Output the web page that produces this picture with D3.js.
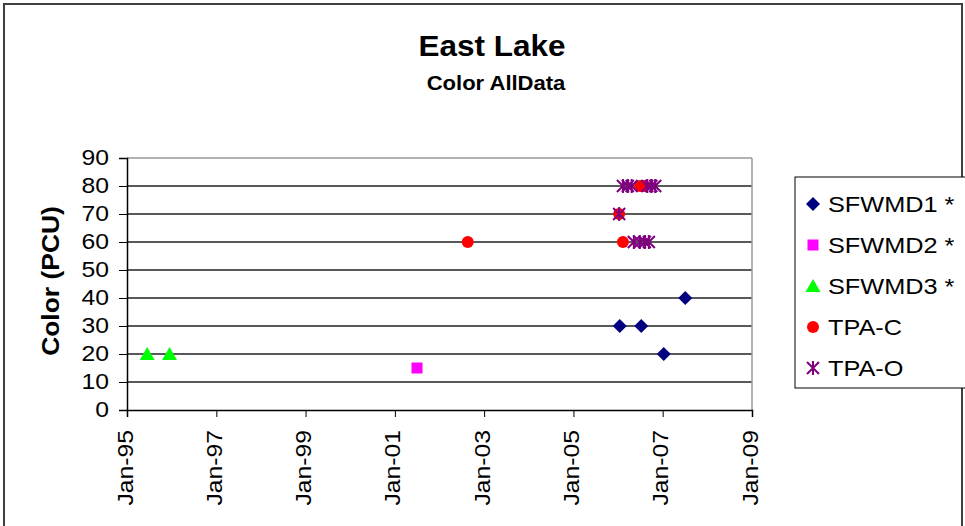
<!DOCTYPE html>
<html>
<head>
<meta charset="utf-8">
<script src="https://cdn.jsdelivr.net/npm/d3@7"></script>
<style>
  html, body { margin: 0; padding: 0; background: #fff; }
  svg { display: block; font-family: Arial, "Liberation Sans", sans-serif; }
</style>
</head>
<body>
<svg id="chart" width="965" height="526"></svg>
<script>
// Sampling dates and colour readings (PCU) per station
const sfwmd1Dates = ["2006-01-15", "2006-07-10", "2007-01-10", "2007-07-05"];
const sfwmd1Values = [30, 30, 20, 40];

const sfwmd2Dates = ["2001-07-01"];
const sfwmd2Values = [15];

const sfwmd3Dates = ["1995-06-15", "1995-12-15"];
const sfwmd3Values = [20, 20];

const tpaCDates = ["2002-08-20", "2006-01-10", "2006-02-10", "2006-07-01", "2006-08-01"];
const tpaCValues = [60, 70, 60, 80, 80];

const tpaODates = ["2006-01-10", "2006-02-10", "2006-03-22", "2006-04-22",
                   "2006-08-28", "2006-09-30", "2006-11-01",
                   "2006-05-10", "2006-06-28", "2006-08-08", "2006-09-10"];
const tpaOValues = [70, 80, 80, 80, 80, 80, 80, 60, 60, 60, 60];

const seriesNames = ["SFWMD1 *", "SFWMD2 *", "SFWMD3 *", "TPA-C", "TPA-O"];
const xTickDates = ["1995-01-01", "1997-01-01", "1999-01-01", "2001-01-01",
                    "2003-01-01", "2005-01-01", "2007-01-01", "2009-01-01"];
const yTicks = [0, 10, 20, 30, 40, 50, 60, 70, 80, 90];

const parse = d3.timeParse("%Y-%m-%d");
const fmt = d3.timeFormat("%b-%y");

const series = [
  { name: seriesNames[0], dates: sfwmd1Dates, values: sfwmd1Values, color: "#000080", shape: "diamond" },
  { name: seriesNames[1], dates: sfwmd2Dates, values: sfwmd2Values, color: "#FF00FF", shape: "square" },
  { name: seriesNames[2], dates: sfwmd3Dates, values: sfwmd3Values, color: "#00FF00", shape: "triangle" },
  { name: seriesNames[3], dates: tpaCDates, values: tpaCValues, color: "#FF0000", shape: "circle" },
  { name: seriesNames[4], dates: tpaODates, values: tpaOValues, color: "#800080", shape: "star" }
];

// Text is drawn slightly widened along its reading direction
const WIDEN = 1.15;

const svg = d3.select("#chart");
const plot = { left: 127, right: 752, top: 158, bottom: 410 };

// Outer chart frame
svg.append("rect")
  .attr("x", 4).attr("y", 4).attr("width", 958).attr("height", 540)
  .attr("fill", "#fff").attr("stroke", "#404040").attr("stroke-width", 2);

// Titles
svg.append("text").attr("transform", "translate(492,56) scale(1.05,1)").attr("text-anchor", "middle")
  .attr("font-size", 30).attr("font-weight", "bold").text("East Lake");
svg.append("text").attr("transform", "translate(496,90) scale(1.05,1)").attr("text-anchor", "middle")
  .attr("font-size", 21).attr("font-weight", "bold").text("Color AllData");

const x = d3.scaleTime()
  .domain([parse(xTickDates[0]), parse(xTickDates[xTickDates.length - 1])])
  .range([plot.left, plot.right]);
const y = d3.scaleLinear().domain([0, 90]).range([plot.bottom, plot.top]);

// Gridlines
svg.append("g").selectAll("line").data(yTicks.slice(1)).join("line")
  .attr("x1", plot.left).attr("x2", plot.right)
  .attr("y1", d => y(d)).attr("y2", d => y(d))
  .attr("stroke", d => d === 90 ? "#999" : "#222").attr("stroke-width", 1.5);
// Right frame of plot area
svg.append("line").attr("x1", plot.right).attr("x2", plot.right)
  .attr("y1", plot.top).attr("y2", plot.bottom)
  .attr("stroke", "#999").attr("stroke-width", 1.5);

// Y axis
const yAxis = svg.append("g").attr("transform", `translate(${plot.left},0)`)
  .call(d3.axisLeft(y).tickValues(yTicks).tickSize(8).tickPadding(8));
yAxis.select(".domain").attr("stroke", "#000").attr("stroke-width", 1.5);
yAxis.selectAll(".tick line").attr("stroke", "#000");
yAxis.selectAll("text").attr("font-size", 21.5).attr("fill", "#000")
  .attr("font-family", "Arial, 'Liberation Sans', sans-serif")
  .attr("x", 0)
  .attr("transform", `translate(-18,0) scale(${WIDEN},1)`);

// X axis
const xAxis = svg.append("g").attr("transform", `translate(0,${plot.bottom})`)
  .call(d3.axisBottom(x).tickValues(xTickDates.map(parse)).tickFormat(fmt).tickSize(7).tickPadding(0));
xAxis.select(".domain").attr("stroke", "#000").attr("stroke-width", 1.5);
xAxis.selectAll(".tick line").attr("stroke", "#000");
xAxis.selectAll("text")
  .attr("font-size", 21.5).attr("fill", "#000")
  .attr("font-family", "Arial, 'Liberation Sans', sans-serif")
  .attr("text-anchor", "end")
  .attr("x", 0).attr("y", 0).attr("dy", null)
  .attr("transform", `translate(5,20) rotate(-90) scale(${WIDEN},1)`);

// Y axis title
svg.append("text")
  .attr("transform", `translate(59,281) rotate(-90) scale(${WIDEN},1)`)
  .attr("text-anchor", "middle").attr("font-size", 23).attr("font-weight", "bold")
  .text("Color (PCU)");

// Marker shapes
function marker(sel, shape, color) {
  if (shape === "diamond") {
    sel.append("path").attr("d", "M0,-7L7,0L0,7L-7,0Z").attr("fill", color);
  } else if (shape === "square") {
    sel.append("rect").attr("x", -5.5).attr("y", -5.5).attr("width", 11).attr("height", 11).attr("fill", color);
  } else if (shape === "triangle") {
    sel.append("path").attr("d", "M0,-7L7.5,6L-7.5,6Z").attr("fill", color);
  } else if (shape === "circle") {
    sel.append("circle").attr("r", 6).attr("fill", color);
  } else if (shape === "star") {
    sel.append("path").attr("d", "M-6,-6L6,6M-6,6L6,-6M0,-7L0,7")
      .attr("stroke", color).attr("stroke-width", 2).attr("fill", "none");
  }
}

// Points
series.forEach(s => {
  const g = svg.append("g");
  s.dates.forEach((d, i) => {
    const m = g.append("g").attr("transform", `translate(${x(parse(d))},${y(s.values[i])})`);
    marker(m, s.shape, s.color);
  });
});

// Legend
const legend = svg.append("g");
legend.append("rect").attr("x", 795).attr("y", 177).attr("width", 175).attr("height", 211)
  .attr("fill", "#fff").attr("stroke", "#000").attr("stroke-width", 1);
series.forEach((s, i) => {
  const cy = 204 + i * 41;
  const m = legend.append("g").attr("transform", `translate(813,${cy})`);
  marker(m, s.shape, s.color);
  legend.append("text").attr("transform", `translate(828,${cy + 8}) scale(${WIDEN},1)`)
    .attr("font-size", 22).text(s.name);
});
</script>
</body>
</html>
